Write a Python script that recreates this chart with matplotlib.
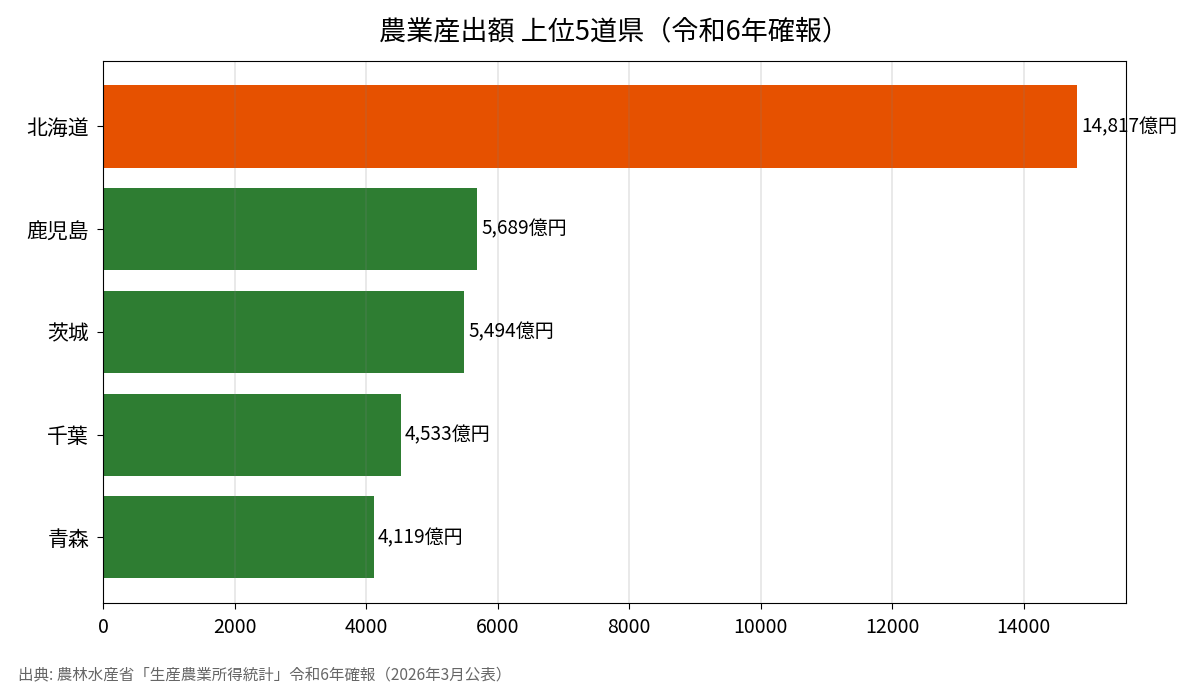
import matplotlib.pyplot as plt

plt.rcParams['font.family'] = ['Noto Sans CJK JP', 'DejaVu Sans']

# データ（単位: 億円）
prefs = ['北海道', '鹿児島', '茨城', '千葉', '青森']
values = [14817, 5689, 5494, 4533, 4119]
colors = ['#E65100', '#2E7D32', '#2E7D32', '#2E7D32', '#2E7D32']

fig, ax = plt.subplots(figsize=(11.91, 6.98), dpi=100)
fig.subplots_adjust(left=0.0865, right=0.9455, top=0.913, bottom=0.136)

ypos = list(range(len(prefs)))
ax.barh(ypos, values, color=colors, height=0.8)
ax.set_yticks(ypos)
ax.set_yticklabels(prefs, fontsize=15)
ax.invert_yaxis()
ax.set_xlim(0, max(values) * 1.05)
ax.tick_params(axis='x', labelsize=14)
ax.tick_params(length=4.5, pad=5.5)

ax.grid(axis='x', color='gray', alpha=0.2, linewidth=1.2)

for y, v in zip(ypos, values):
    ax.text(v + 60, y, f'{v:,}億円', va='center', ha='left', fontsize=13.7)

ax.set_title('農業産出額 上位5道県（令和6年確報）', fontsize=19.5, pad=15)
fig.text(0.015, 0.021, '出典: 農林水産省「生産農業所得統計」令和6年確報（2026年3月公表）',
         fontsize=11.2, color='#666666', ha='left', va='bottom')

fig.savefig('out.png', dpi=100)
